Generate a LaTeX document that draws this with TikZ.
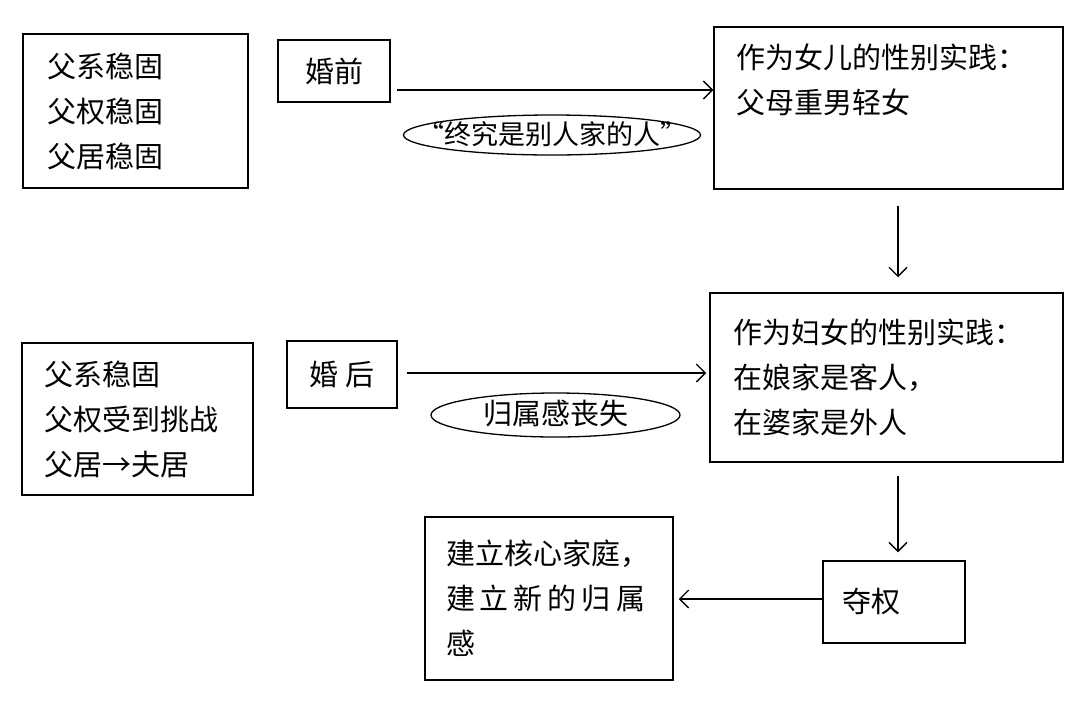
\documentclass[tikz,border=0pt]{standalone}
\usepackage{fontspec}
\setmainfont{Noto Sans CJK SC}
\usetikzlibrary{arrows.meta}

\tikzset{
    box/.style={draw=black,line width=1.5pt,align=left,inner ysep=0pt,anchor=center},
    oval/.style={inner sep=0pt},
    arr/.style={line width=1.3pt,-{Straight Barb[length=9pt,width=18pt,line width=1.3pt]}}
}

\begin{document}
\begin{tikzpicture}[x=1pt,y=-1pt,font=\fontsize{29}{45}\selectfont]
    \useasboundingbox (0,0) rectangle (1080,721);

    \node[box,minimum width=225pt,minimum height=154pt,inner xsep=24pt,text width=177pt] (patri1) at (135.5,111) {父系稳固\\父权稳固\\父居稳固};
    \node[box,minimum width=112pt,minimum height=62pt,align=center] (before) at (334,71) {婚前};
    \node[box,minimum width=349pt,minimum height=162pt,inner xsep=22pt,text width=305pt] (daughter) at (888.5,108) {作为女儿的性别实践：\\父母重男轻女\\[14pt]~};
    \node[oval,font=\fontsize{27}{30}\selectfont] (saying) at (552,134) {“终究是别人家的人”};
    \draw[line width=1.3pt] (552,135) ellipse [x radius=148.5pt,y radius=20pt];

    \node[box,minimum width=231pt,minimum height=152pt,inner xsep=23pt,text width=185pt] (patri2) at (137.5,419) {父系稳固\\父权受到挑战\\父居→夫居};
    \node[box,minimum width=110pt,minimum height=67pt,align=center] (after) at (342,374.5) {婚 后};
    \node[box,minimum width=353pt,minimum height=169pt,inner xsep=23pt,text width=307pt] (wife) at (886.5,377.5) {作为妇女的性别实践：\\在娘家是客人，\\在婆家是外人};
    \node[oval] (loss) at (555.5,414) {归属感丧失};
    \draw[line width=1.3pt] (555.5,415) ellipse [x radius=124.5pt,y radius=22pt];

    \node[box,minimum width=142pt,minimum height=82pt,inner xsep=19pt,text width=104pt] (grab) at (894,602) {\raisebox{4pt}{夺权}};
    \node[box,minimum width=248pt,minimum height=163pt,inner xsep=21pt,text width=206pt] (nuclear) at (549,598.5) {建立核心家庭，\\建\kern5pt 立\kern5pt 新\kern5pt 的\kern5pt 归\kern5pt 属\\感};

    \coordinate (a1) at (397,90);
    \coordinate (a2) at (407,373);
    \coordinate (col) at (898,0);

    \draw[arr] (a1) -- (a1 -| daughter.west);
    \draw[arr] (a2) -- ([xshift=-3pt]a2 -| wife.west);
    \draw[arr,shorten <=16pt,shorten >=15pt] (daughter.south -| col) -- (wife.north -| col);
    \draw[arr,shorten <=13pt,shorten >=8pt] (wife.south -| col) -- (grab.north -| col);
    \draw[arr,shorten >=5pt] ([yshift=3pt]grab.west) -- ([yshift=3pt]grab.west -| nuclear.east);
\end{tikzpicture}
\end{document}
